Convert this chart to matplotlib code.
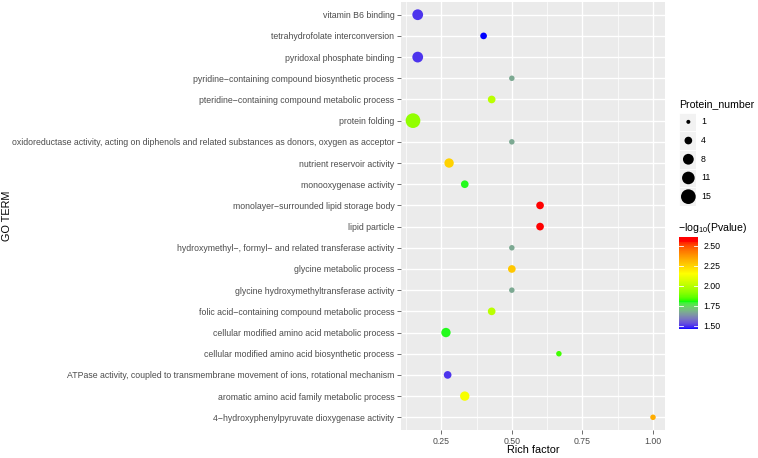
import numpy as np
import matplotlib
matplotlib.use("Agg")
import matplotlib.pyplot as plt
from matplotlib.colors import ListedColormap, Normalize
from matplotlib.patches import Rectangle

plt.rcParams['font.family'] = ['Liberation Sans', 'DejaVu Sans']

# GO terms, top to bottom as drawn
terms = [
    "vitamin B6 binding",
    "tetrahydrofolate interconversion",
    "pyridoxal phosphate binding",
    "pyridine\u2212containing compound biosynthetic process",
    "pteridine\u2212containing compound metabolic process",
    "protein folding",
    "oxidoreductase activity, acting on diphenols and related substances as donors, oxygen as acceptor",
    "nutrient reservoir activity",
    "monooxygenase activity",
    "monolayer\u2212surrounded lipid storage body",
    "lipid particle",
    "hydroxymethyl\u2212, formyl\u2212 and related transferase activity",
    "glycine metabolic process",
    "glycine hydroxymethyltransferase activity",
    "folic acid\u2212containing compound metabolic process",
    "cellular modified amino acid metabolic process",
    "cellular modified amino acid biosynthetic process",
    "ATPase activity, coupled to transmembrane movement of ions, rotational mechanism",
    "aromatic amino acid family metabolic process",
    "4\u2212hydroxyphenylpyruvate dioxygenase activity",
]
rich_factor = [0.1667, 0.40, 0.1667, 0.50, 0.4286, 0.15, 0.50, 0.2778, 0.3333, 0.60,
               0.60, 0.50, 0.50, 0.50, 0.4286, 0.2667, 0.6667, 0.2727, 0.3333, 1.00]
protein_number = [8, 3, 8, 2, 4, 15, 2, 6, 4, 4,
                  4, 2, 4, 2, 4, 6, 2, 4, 6, 2]
neg_log_p = [1.50, 1.46, 1.50, 1.67, 2.00, 1.93, 1.67, 2.25, 1.80, 2.61,
             2.61, 1.67, 2.27, 1.67, 2.00, 1.80, 1.83, 1.50, 2.13, 2.33]

size_breaks = [1, 4, 8, 11, 15]
color_breaks = [1.50, 1.75, 2.00, 2.25, 2.50]


# ggplot-like gradient (blue, green, yellow, red) interpolated in Lab space
WHITE = np.array([0.95047, 1.0, 1.08883])
M = np.array([[0.4124, 0.3576, 0.1805],
              [0.2126, 0.7152, 0.0722],
              [0.0193, 0.1192, 0.9505]])


def rgb_to_lab(rgb):
    c = np.where(rgb > 0.04045, ((rgb + 0.055) / 1.055) ** 2.4, rgb / 12.92)
    t = (M @ c) / WHITE
    f = np.where(t > 0.008856, np.cbrt(t), 7.787 * t + 16 / 116)
    return np.array([116 * f[1] - 16, 500 * (f[0] - f[1]), 200 * (f[1] - f[2])])


def lab_to_rgb(lab):
    fy = (lab[0] + 16) / 116
    f = np.array([fy + lab[1] / 500, fy, fy - lab[2] / 200])
    t = np.where(f > 0.206893, f ** 3, (f - 16 / 116) / 7.787) * WHITE
    c = np.linalg.solve(M, t)
    c = np.clip(c, 0, 1)
    s = np.where(c > 0.0031308, 1.055 * c ** (1 / 2.4) - 0.055, 12.92 * c)
    return np.clip(s, 0, 1)


anchor_cols = [(0, 0, 1), (0, 1, 0), (1, 1, 0), (1, 0, 0), (1, 0, 0)]
anchor_pos = [0.0, 0.30, 0.60, 0.95, 1.0]
labs = [rgb_to_lab(np.array(a, float)) for a in anchor_cols]
cols = []
for u in np.linspace(0, 1, 256):
    i = min(np.searchsorted(anchor_pos, u, side='right') - 1, len(anchor_pos) - 2)
    w = (u - anchor_pos[i]) / (anchor_pos[i + 1] - anchor_pos[i])
    cols.append(lab_to_rgb(labs[i] * (1 - w) + labs[i + 1] * w))
cmap = ListedColormap(cols)
norm = Normalize(vmin=min(neg_log_p), vmax=max(neg_log_p))


def size_pt2(n):
    # area scaling: diameter^2 (px) grows linearly with count, converted to pt^2
    d2 = 16 + 14.3 * (np.asarray(n, float) - 1)
    return d2 * 0.72 ** 2


W, H = 758, 458
fig = plt.figure(figsize=(W / 100, H / 100), dpi=100)
ax = fig.add_axes([401 / W, 1 - 430 / H, 264 / W, 428 / H])
ax.set_facecolor('#EBEBEB')
for s in ax.spines.values():
    s.set_visible(False)

ypos = np.arange(len(terms))
ax.scatter(rich_factor, ypos, s=size_pt2(protein_number), c=neg_log_p,
           cmap=cmap, norm=norm, linewidths=0, zorder=3)

xmin, xmax = min(rich_factor), max(rich_factor)
pad = (xmax - xmin) * 0.05
ax.set_xlim(xmin - pad, xmax + pad)
ax.set_ylim(len(terms) - 0.4, -0.6)

ax.set_xticks([0.25, 0.50, 0.75, 1.00])
ax.set_xticklabels(['0.25', '0.50', '0.75', '1.00'])
ax.set_xticks([0.125, 0.375, 0.625, 0.875], minor=True)
ax.set_yticks(ypos)
ax.set_yticklabels(terms)
ax.grid(True, which='major', color='white', linewidth=1.0, zorder=0)
ax.grid(True, which='minor', axis='x', color='white', linewidth=0.5, zorder=0)
ax.set_axisbelow(True)
ax.tick_params(axis='both', which='major', labelsize=6.3, labelcolor='#4D4D4D',
               color='#333333', length=2.7, width=0.5, pad=2.0)
ax.tick_params(axis='x', which='minor', length=0)

fig.text(533 / W, 1 - 450 / H, 'Rich factor', fontsize=7.8, ha='center', va='center')
fig.text(7 / W, 1 - 216 / H, 'GO TERM', fontsize=7.8, ha='center', va='center',
         rotation=90)

# size legend
fig.text(679 / W, 1 - 104 / H, 'Protein_number', fontsize=7.6, ha='left', va='center')
lax = fig.add_axes([679 / W, 1 - 206 / H, 17 / W, 93.5 / H])
lax.set_xlim(0, 1)
lax.set_ylim(len(size_breaks), 0)
lax.axis('off')
for i, b in enumerate(size_breaks):
    lax.add_patch(Rectangle((0, i), 1, 1, facecolor='#F2F2F2', edgecolor='white',
                            linewidth=0.6))
    fig.text(701 / W, 1 - (112.3 + 18.7 * (i + 0.5)) / H, str(b), fontsize=6.3,
             ha='left', va='center')
lax.scatter([0.55] * len(size_breaks), np.arange(len(size_breaks)) + 0.5,
            s=size_pt2(size_breaks), c='black', linewidths=0, zorder=3)

# colour bar
fig.text(678 / W, 1 - 228 / H, '\u2212log$_{\\mathregular{10}}$(Pvalue)', fontsize=7.6,
         ha='left', va='center')
cax = fig.add_axes([679 / W, 1 - 329 / H, 19 / W, 92.3 / H])
cb = fig.colorbar(matplotlib.cm.ScalarMappable(norm=norm, cmap=cmap), cax=cax)
cb.outline.set_visible(False)
cb.set_ticks(color_breaks)
cb.set_ticklabels(['%.2f' % v for v in color_breaks])
cax.tick_params(length=0, labelsize=6.3, pad=4, labelcolor='black')
for v in color_breaks:
    cax.axhline(v, xmin=0, xmax=0.2, color='white', linewidth=0.6)
    cax.axhline(v, xmin=0.8, xmax=1, color='white', linewidth=0.6)

fig.savefig('out.png', dpi=100)
